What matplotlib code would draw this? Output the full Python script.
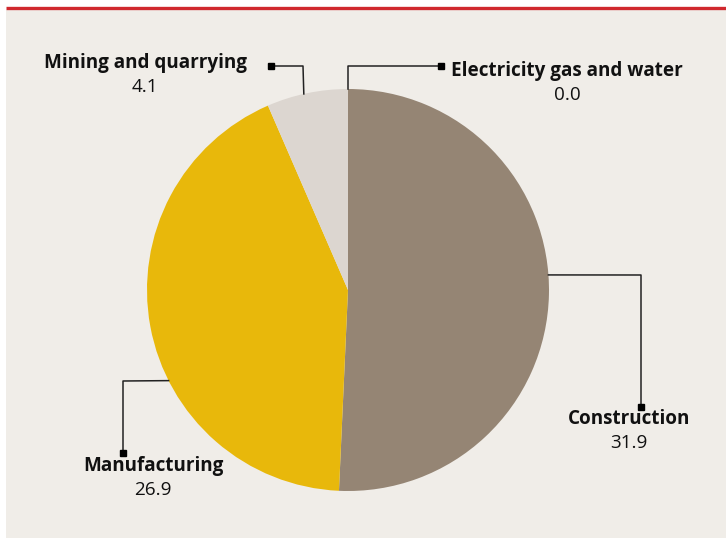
import numpy as np
import matplotlib.pyplot as plt
from matplotlib.patches import Rectangle

# Share of sectors
sectors = ['Construction', 'Manufacturing', 'Mining and quarrying', 'Electricity gas and water']
values = [31.9, 26.9, 4.1, 0.0]
colors = ['#958574', '#e8b80b', '#dcd6d0', '#c9c2b8']

W, H = 726, 540
fig = plt.figure(figsize=(W / 100, H / 100), dpi=100)
fig.patch.set_facecolor('white')
ax = fig.add_axes([0, 0, 1, 1])
ax.set_xlim(0, W)
ax.set_ylim(0, H)
ax.set_aspect('equal')
ax.axis('off')

# panel background and top rule
ax.add_patch(Rectangle((6, 2), W - 6, H - 12, facecolor='#f0ede8', edgecolor='none', zorder=0))
ax.plot([6, W], [H - 8, H - 8], color='#d0282e', lw=2.4, solid_capstyle='butt', zorder=1)

cx, cy, r = 348, H - 290, 201
ax.pie(values, colors=colors, startangle=90, counterclock=False,
       center=(cx, cy), radius=r, wedgeprops=dict(linewidth=0))
ax.set_xlim(0, W)
ax.set_ylim(0, H)

# leader lines: (angle on pie edge, elbow point, end point) in pixel space
leaders = {
    'Construction': (4.3, (641, 275), (641, 407)),
    'Manufacturing': (206.8, (123, 381), (123, 453)),
    'Mining and quarrying': (102.7, (303, 66), (271, 66)),
    'Electricity gas and water': (90.0, (348, 66), (441, 66)),
}
label_pos = {
    'Construction': (629, 419),
    'Manufacturing': (153, 466),
    'Mining and quarrying': (145, 63),
    'Electricity gas and water': (567, 71),
}

for name, val in zip(sectors, values):
    ang, elbow, end = leaders[name]
    a = np.deg2rad(ang)
    sx, sy = cx + r * np.cos(a), cy + r * np.sin(a)
    xs = [sx, elbow[0], end[0]]
    ys = [sy, H - elbow[1], H - end[1]]
    ax.plot(xs, ys, color='#222222', lw=1.1, zorder=3)
    ax.plot(end[0], H - end[1], marker='s', color='black', markersize=4.5, zorder=4)
    lx, ly = label_pos[name]
    ax.text(lx, H - ly, name, ha='center', va='center', fontsize=13.6,
            fontweight='bold', family='Open Sans', color='#111111')
    ax.text(lx, H - ly - 24, f'{val:.1f}', ha='center', va='center', fontsize=13.6,
            family='Open Sans', color='#111111')

fig.savefig('out.png', dpi=100, facecolor=fig.get_facecolor())
